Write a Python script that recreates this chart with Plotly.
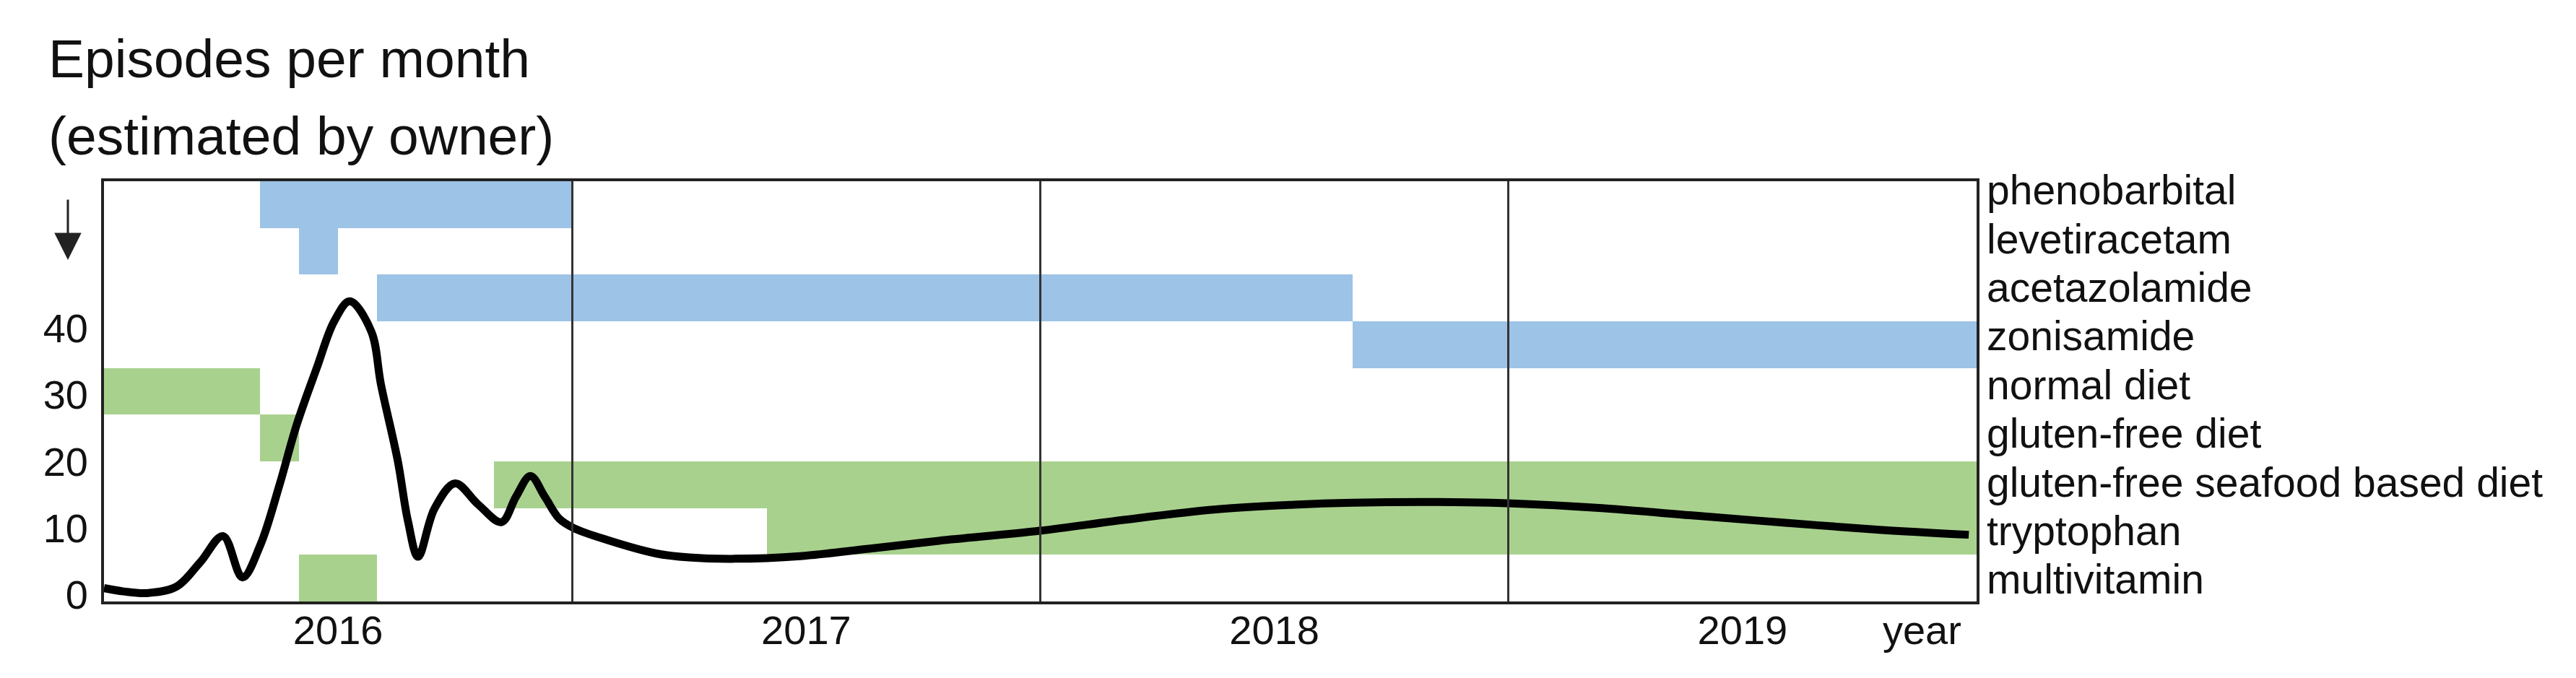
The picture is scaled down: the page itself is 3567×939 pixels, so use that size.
import plotly.graph_objects as go

# ---- data ----
# months since start of 2016 (x axis spans 2016-2019, 48 months)
months = [0, 0.5, 1.1, 1.85, 2.47, 3.05, 3.55, 4.01, 4.5, 4.94, 5.46, 5.9, 6.3, 6.85,
          7.1, 7.53, 7.79, 8.05, 8.47, 9.0, 9.58, 10.19, 10.56, 10.93, 11.3, 11.67,
          12.04, 12.91, 14.15, 15.0, 16.1, 17.85, 19.6, 21.4, 24.0, 26.1, 28.5, 30.5,
          32.0, 34.2, 36.1, 38.4, 40.7, 43.1, 45.5, 47.8]
episodes = [1.0, 0.5, 0.25, 1.2, 4.9, 8.8, 2.6, 7.5, 16.5, 25.5, 34.1, 41.0, 44.0, 39.5,
            31.5, 20.1, 11.1, 5.7, 12.9, 16.7, 13.6, 10.9, 14.7, 17.8, 14.7, 11.4,
            10.0, 8.2, 6.2, 5.6, 5.4, 5.8, 6.9, 8.1, 9.6, 11.2, 12.8, 13.5,
            13.8, 13.9, 13.7, 13.0, 11.9, 10.8, 9.75, 9.0]

treatments = ["phenobarbital", "levetiracetam", "acetazolamide", "zonisamide",
              "normal diet", "gluten-free diet", "gluten-free seafood based diet",
              "tryptophan", "multivitamin"]
treatment_kind = ["drug", "drug", "drug", "drug", "diet", "diet", "diet", "diet", "diet"]
start_month = [4, 5, 7, 32, 0, 4, 10, 17, 5]
end_month = [12, 6, 32, 48, 4, 5, 48, 48, 7]

years = ["2016", "2017", "2018", "2019"]
y_ticks = [0, 10, 20, 30, 40]

# ---- styling ----
FONT = "Liberation Sans, Arial, Helvetica, sans-serif"
kind_color = {"drug": "#9DC3E6", "diet": "#A9D18E"}
W, H = 3567, 939
L, R, T, B = 136, 3567 - 2729, 243, 939 - 825
plot_h = H - T - B
plot_w = W - L - R
n_rows = len(treatments)
row_idx = list(range(n_rows))

fig = go.Figure()

fig.add_trace(go.Bar(
    orientation="h",
    y=row_idx,
    base=start_month,
    x=[e - s for s, e in zip(start_month, end_month)],
    width=1,
    marker=dict(color=[kind_color[k] for k in treatment_kind], line=dict(width=0)),
    xaxis="x", yaxis="y",
    hoverinfo="skip",
))

fig.add_trace(go.Scatter(
    x=months, y=episodes, mode="lines",
    line=dict(color="black", width=11, shape="spline", smoothing=1.0),
    xaxis="x", yaxis="y2",
))

# carrier for the treatment-name axis (invisible)
fig.add_trace(go.Scatter(
    x=start_month, y=row_idx, mode="markers",
    marker=dict(size=1, opacity=0), hoverinfo="skip",
    xaxis="x", yaxis="y3",
))

n_months = 12 * len(years)
fig.update_layout(
    width=W, height=H,
    margin=dict(l=L, r=R, t=T, b=B, pad=0),
    paper_bgcolor="white", plot_bgcolor="white",
    showlegend=False,
    font=dict(family=FONT, color="#111", size=56),
    xaxis=dict(
        range=[0, n_months],
        tickmode="array",
        tickvals=[12 * i + 6 for i in range(len(years))] + [n_months - 1.4],
        ticktext=years + ["year"],
        ticks="",
        showgrid=False, zeroline=False,
        showline=True, mirror=True, linecolor="#222", linewidth=4,
        layer="above traces",
        tickfont=dict(size=56, family=FONT, color="#111"),
        ticklabelstandoff=-12,
        minor=dict(tickmode="array",
                   tickvals=[12 * (i + 1) for i in range(len(years) - 1)],
                   ticks="inside", ticklen=plot_h, tickwidth=3, tickcolor="#333",
                   showgrid=False),
    ),
    # rows of treatment bars (one row per treatment)
    yaxis=dict(
        range=[n_rows - 0.5, -0.5],
        side="right",
        ticks="", showticklabels=False,
        showgrid=False, zeroline=False,
        showline=True, mirror=True, linecolor="#222", linewidth=4,
        layer="above traces",
    ),
    # episodes per month scale
    yaxis2=dict(
        overlaying="y", side="left", anchor="x",
        range=[-1, 62],
        tickmode="array", tickvals=y_ticks,
        ticks="", showgrid=False, zeroline=False, showline=False,
        tickfont=dict(size=56, family=FONT, color="#111"),
        ticklabelstandoff=21,
    ),
    # treatment names on the right (slightly wider spacing than the rows)
    yaxis3=dict(
        overlaying="y", side="right", anchor="x",
        range=[n_rows - 0.547, -0.1825],
        tickmode="array", tickvals=row_idx, ticktext=treatments,
        ticks="", showgrid=False, zeroline=False, showline=False,
        tickfont=dict(size=57, family=FONT, color="#111"),
        ticklabelstandoff=13,
    ),
    bargap=0,
)

# title text (two lines) top-left
fig.add_annotation(
    text="Episodes per month", xref="paper", yref="paper",
    x=(57 - L) / plot_w, y=(H - B - 73) / plot_h,
    xanchor="left", yanchor="middle", showarrow=False,
    font=dict(size=75, family=FONT, color="#111"),
)
fig.add_annotation(
    text="(estimated by owner)", xref="paper", yref="paper",
    x=(57 - L) / plot_w, y=(H - B - 180) / plot_h,
    xanchor="left", yanchor="middle", showarrow=False,
    font=dict(size=75, family=FONT, color="#111"),
)
# downward arrow next to the y axis
fig.add_annotation(
    text="", xref="paper", yref="paper",
    x=(86 - L) / plot_w, y=(H - B - 352) / plot_h,
    ax=0, ay=-85, axref="pixel", ayref="pixel",
    showarrow=True, arrowhead=2, arrowsize=2.5, arrowwidth=3, arrowcolor="#222",
    standoff=0,
)

fig.write_html("out.html")
